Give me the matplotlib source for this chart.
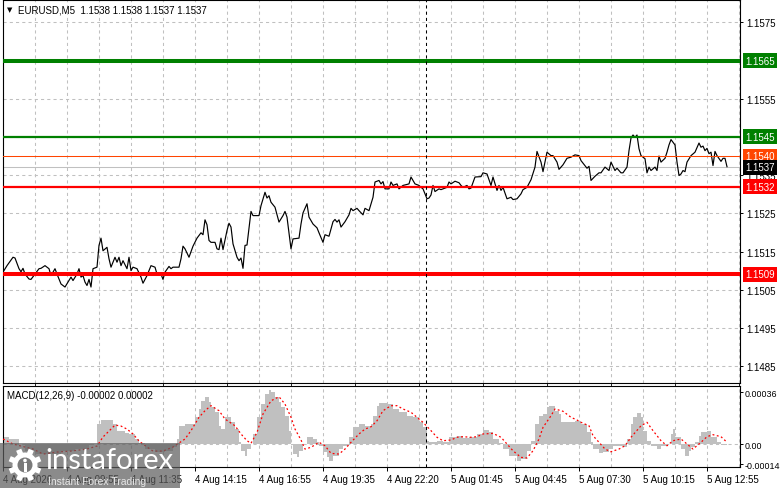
import matplotlib
matplotlib.use("Agg")
import matplotlib.pyplot as plt
import matplotlib.transforms as mtransforms
from matplotlib.patches import Rectangle, Circle
from matplotlib.lines import Line2D
from matplotlib.ticker import MultipleLocator
import numpy as np

plt.rcParams['font.family'] = ['Liberation Sans', 'DejaVu Sans']
plt.rcParams['font.size'] = 7

# ---- price (M5 close), bar index -> price ----
price_bars = [0, 2, 5, 6, 8, 9, 10, 11, 13, 14,
              16, 18, 19, 21, 23, 24, 26, 27, 29, 31,
              33, 34, 35, 37, 38, 39, 40, 41, 42, 43,
              44, 45, 47, 48, 49, 50, 52, 53, 54, 56,
              57, 58, 59, 60, 62, 63, 64, 65, 67, 69,
              70, 72, 74, 76, 77, 79, 80, 81, 83, 84,
              85, 88, 89, 90, 91, 93,
              95, 97, 99, 100, 101, 102, 103, 104, 106, 107,
              108, 109, 110, 112, 113, 114, 115, 117, 118, 119,
              120, 121, 122, 124, 125, 128, 129, 131, 132, 133,
              134, 136, 138, 140, 141, 142, 144, 145, 148, 149,
              150, 152, 153, 155, 157, 158, 160, 161, 163, 165,
              166, 167, 168, 169, 171, 173, 174, 175, 177, 178,
              180, 181, 183,
              185, 186, 188, 189, 190, 191, 193, 194, 195, 197,
              198, 200, 203, 204, 206, 208, 209, 210, 212, 213,
              214, 215, 216, 218, 219, 222, 223, 224, 226, 228,
              229, 230, 232, 233, 234, 236, 239, 240, 242, 244,
              245, 247, 248, 249, 250, 252, 254, 255, 257, 259,
              260, 262, 264, 266, 267, 269, 270, 271, 272, 274,
              275, 277, 278,
              280, 282, 284, 286, 288, 289, 292, 293, 294, 296,
              298, 299, 301, 303, 304, 306, 307, 309, 310, 312,
              313, 314, 315, 316, 317, 318, 319, 321, 322, 323,
              324, 326, 327, 328, 329, 331, 332, 333, 334, 336,
              337, 338, 339, 340, 341, 342, 344, 346, 348, 349,
              350, 351, 352, 353, 354, 355, 356, 357, 359, 360,
              361, 362]
price_close = [1.15096, 1.15113, 1.15135, 1.15133, 1.15105, 1.15097, 1.15106, 1.15091, 1.15078, 1.15077,
               1.15091, 1.15105, 1.15106, 1.15113, 1.15105, 1.15087, 1.15105, 1.15091, 1.15065, 1.15057,
               1.15074, 1.15083, 1.15074, 1.15091, 1.15105, 1.15083, 1.15087, 1.15070, 1.15061, 1.15077,
               1.15057, 1.15105, 1.15109, 1.15166, 1.15185, 1.15152, 1.15161, 1.15131, 1.15109, 1.15135,
               1.15122, 1.15135, 1.15113, 1.15126, 1.15105, 1.15135, 1.15100, 1.15109, 1.15105, 1.15083,
               1.15067, 1.15087, 1.15113, 1.15109, 1.15091, 1.15091, 1.15077, 1.15096, 1.15111, 1.15105,
               1.15109, 1.15109, 1.15131, 1.15164, 1.15157, 1.15135,
               1.15164, 1.15185, 1.15199, 1.15194, 1.15233, 1.15220, 1.15179, 1.15174, 1.15174, 1.15157,
               1.15155, 1.15185, 1.15155, 1.15205, 1.15224, 1.15214, 1.15170, 1.15135, 1.15126, 1.15133,
               1.15106, 1.15166, 1.15167, 1.15255, 1.15244, 1.15244, 1.15270, 1.15305, 1.15290, 1.15296,
               1.15279, 1.15266, 1.15227, 1.15244, 1.15255, 1.15240, 1.15157, 1.15183, 1.15185, 1.15222,
               1.15251, 1.15275, 1.15240, 1.15222, 1.15212, 1.15199, 1.15174, 1.15194, 1.15190, 1.15228,
               1.15234, 1.15227, 1.15233, 1.15214, 1.15228, 1.15246, 1.15263, 1.15257, 1.15263, 1.15257,
               1.15246, 1.15263, 1.15257,
               1.15292, 1.15332, 1.15336, 1.15327, 1.15333, 1.15314, 1.15314, 1.15332, 1.15323, 1.15327,
               1.15314, 1.15323, 1.15327, 1.15345, 1.15327, 1.15323, 1.15318, 1.15314, 1.15288, 1.15290,
               1.15298, 1.15323, 1.15307, 1.15314, 1.15312, 1.15318, 1.15332, 1.15327, 1.15334, 1.15330,
               1.15323, 1.15318, 1.15323, 1.15314, 1.15316, 1.15345, 1.15346, 1.15356, 1.15353, 1.15323,
               1.15345, 1.15310, 1.15323, 1.15310, 1.15318, 1.15288, 1.15292, 1.15286, 1.15288, 1.15301,
               1.15312, 1.15318, 1.15338, 1.15371, 1.15412, 1.15384, 1.15359, 1.15384, 1.15410, 1.15401,
               1.15401, 1.15384, 1.15365,
               1.15377, 1.15394, 1.15397, 1.15403, 1.15401, 1.15388, 1.15368, 1.15373, 1.15336, 1.15347,
               1.15356, 1.15356, 1.15371, 1.15362, 1.15384, 1.15362, 1.15368, 1.15356, 1.15356, 1.15371,
               1.15414, 1.15447, 1.15455, 1.15449, 1.15455, 1.15419, 1.15401, 1.15393, 1.15356, 1.15371,
               1.15362, 1.15371, 1.15362, 1.15400, 1.15384, 1.15394, 1.15410, 1.15429, 1.15443, 1.15429,
               1.15384, 1.15349, 1.15353, 1.15362, 1.15359, 1.15384, 1.15401, 1.15410, 1.15434, 1.15423,
               1.15426, 1.15414, 1.15420, 1.15406, 1.15410, 1.15375, 1.15412, 1.15401, 1.15386, 1.15394,
               1.15394, 1.15372]

# ---- MACD(12,26,9) ----
hist_bars = [0, 3, 6, 8, 11, 16, 21, 29, 36, 43, 45, 47, 49, 52, 55, 57, 61, 63, 66, 68, 71, 76, 81, 85, 87, 88,
             91, 94, 96, 98, 99, 101, 103, 104, 106, 108, 109, 111, 113, 114, 116, 118, 119, 121, 122, 124,
             125, 127, 129, 131, 133, 134, 136, 138, 139, 141, 143, 144, 145, 147, 148, 150, 152, 153, 155,
             157, 158, 160, 162, 163, 165, 168, 170, 173, 175, 178, 181, 184,
             185, 187, 188, 192, 195, 198, 202, 205, 208, 210, 212, 213, 217, 220, 223, 227, 230, 233, 237,
             240, 243, 245, 248, 250, 253, 257, 259, 262, 264, 266, 268, 270, 272, 273, 276,
             278, 279, 283, 286, 289, 292, 294, 295, 298, 300, 303, 305, 308, 310, 312, 314, 315, 317, 319,
             320, 322, 324, 327, 329, 332, 334, 335, 336, 339, 341, 343, 344, 346, 348, 349, 352, 354, 357,
             359, 362]
hist_vals = [0.00005, 0.000035, 0.000035, 0.0, -0.00005, -0.00007, -0.00007, -0.00005, -0.000035, -0.00001,
             0.0, 0.00014, 0.000167, 0.000167, 0.00014, 0.00009, 0.000077, 0.00007, 0.000035, 0.000007,
             -0.000035, -0.000056, -0.00005, -0.00002, 0.000035, 0.000125,
             0.000139, 0.000139, 0.000186, 0.000244, 0.000302, 0.000329, 0.00029, 0.000255, 0.00022, 0.000128,
             0.000104, 0.000186, 0.000186, 0.000151, 0.000104, 0.000012, -0.000046, -0.000081, -0.000035, 0.0,
             0.00007, 0.000186, 0.000278, 0.000348, 0.000376, 0.00036, 0.000325, 0.00029, 0.000255, 0.000197,
             0.000093, 0.0, -0.00007, -0.000093, -0.000046, 0.0, 0.000051, 0.000046, 0.000035, 0.000012,
             -0.000012, -0.000058, -0.000093, -0.000116, -0.000081, -0.000035, -0.000012, 0.000046, 0.000116,
             0.000139, 0.000128, 0.000139,
             0.000197, 0.000267, 0.000283, 0.000278, 0.000244, 0.00022, 0.000197, 0.000186, 0.000151, 0.000116,
             0.000023, 0.000012, 0.000023, 0.000012, 0.000046, 0.000058, 0.000042, 0.000046, 0.00007, 0.000097,
             0.000081, 0.000035, 0.000005, -0.000035, -0.000081, -0.000116, -0.000104, -0.000046, 0.000023,
             0.000139, 0.000197, 0.000209, 0.000255, 0.000267, 0.00023,
             0.000209, 0.000151, 0.000151, 0.000158, 0.000139, 0.000081, 0.000012, -0.000035, -0.000065,
             -0.000058, -0.000035, -0.000012, -0.000012, -0.000023, 0.000035, 0.000139, 0.000186, 0.000213,
             0.000186, 0.000093, 0.000023, -0.000012, -0.000035, -0.000012, 0.0, 0.00007, 0.000104, 0.000046,
             -0.000035, -0.000081, -0.000046, -0.000023, 0.000012, 0.000058, 0.000081, 0.000088, 0.000046,
             0.000012, -0.000007, -0.000023]
sig_bars = [0, 5, 15, 20, 27, 34, 42, 47, 50, 54, 56, 59, 62, 65, 68, 72, 75, 80, 85, 88,
            91, 94, 98, 101, 104, 108, 111, 116, 119, 122, 124, 127, 130, 134, 138, 141, 144, 146, 149, 151,
            154, 158, 161, 164, 168, 171, 174, 178, 181, 184,
            187, 190, 194, 197, 200, 204, 207, 210, 214, 217, 220, 224, 227, 230, 234, 237, 240, 245, 249,
            252, 255, 259, 262, 265, 268, 270, 274, 276,
            280, 284, 287, 289, 293, 295, 298, 301, 304, 308, 311, 314, 319, 322, 325, 329, 332, 335, 339,
            342, 345, 349, 352, 355, 359, 362]
sig_vals = [0.000035, 0.0, -0.000035, -0.00007, -0.000056, -0.000049, -0.000035, -0.000014, 0.000049, 0.000104,
            0.000132, 0.000125, 0.000104, 0.00007, 0.000021, -0.000021, -0.000049, -0.000049, -0.000021, 0.000007,
            0.000035, 0.000093, 0.000186, 0.000232, 0.000267, 0.000232, 0.000174, 0.000127, 0.00007, 0.000023,
            0.000005, 0.000081, 0.000209, 0.000301, 0.000329, 0.000278, 0.000186, 0.000104, 0.000028, -0.000035,
            -0.000023, 0.000012, -0.000012, -0.000065, -0.00007, -0.000035, 0.000012, 0.00007, 0.000104, 0.00012,
            0.000162, 0.000232, 0.000267, 0.000267, 0.000244, 0.000221, 0.000186, 0.000151, 0.000093, 0.000047,
            0.000023, 0.000028, 0.000047, 0.000051, 0.000047, 0.000051, 0.00007, 0.000074, 0.000047, 0.0,
            -0.000047, -0.000093, -0.000097, -0.000047, 0.000035, 0.000116, 0.000197, 0.000244,
            0.000228, 0.000186, 0.000167, 0.000151, 0.000127, 0.000058, 0.000012, -0.000035, -0.000054, -0.000035,
            -0.000012, 0.000047, 0.000127, 0.000151, 0.000093, 0.000023, -0.000012, 0.000023, 0.000035, 0.0,
            -0.000035, 0.000012, 0.000051, 0.000065, 0.000051, 0.000012]

# ---- levels / labels ----
level_prices = [1.1565, 1.1545, 1.1540, 1.1532, 1.1509]
level_colors = ['#008000', '#008000', '#ff4500', '#ff0000', '#ff0000']
level_widths = [2.9, 1.6, 0.75, 1.6, 2.9]
last_price = 1.1537
price_ticks = [1.1485, 1.1495, 1.1505, 1.1515, 1.1525, 1.1535, 1.1555, 1.1575]
macd_ticks = [-0.00014, 0.0, 0.00036]
macd_tick_labels = ['-0.00014', '0.00', '0.00036']
time_bars = [0, 32, 64, 96, 128, 160, 192, 224, 256, 288, 320, 352]
time_labels = ['4 Aug 2026', '4 Aug 09:55', '4 Aug 11:35', '4 Aug 14:15', '4 Aug 16:55',
               '4 Aug 19:35', '4 Aug 22:20', '5 Aug 01:45', '5 Aug 04:45', '5 Aug 07:30',
               '5 Aug 10:15', '5 Aug 12:55']
cursor_bar = 211.5

W, H = 781, 489
fig = plt.figure(figsize=(W / 100, H / 100), dpi=100)
fig.patch.set_facecolor('white')
ax = fig.add_axes([3 / W, 1 - 384 / H, 737 / W, 383 / H])
am = fig.add_axes([3 / W, 1 - 468 / H, 737 / W, 81 / H], sharex=ax)

grid_kw = dict(color='#c0c0c0', lw=0.75, ls=(0, (3, 3)))

# main panel
ax.set_xlim(0, 368.5)
ax.set_ylim(1.148058, 1.158084)
ax.plot(price_bars, price_close, color='black', lw=0.85, zorder=3)
ax.axhline(last_price, color='#c0c0c0', lw=0.75, zorder=2)
for p, c, w in zip(level_prices, level_colors, level_widths):
    ax.axhline(p, color=c, lw=w, zorder=4)
ax.axvline(cursor_bar, color='black', lw=0.75, ls=(0, (3, 3)), zorder=5)

ax.yaxis.tick_right()
ax.set_yticks(price_ticks)
ax.set_yticklabels(['%.4f' % t for t in price_ticks])
ax.tick_params(axis='y', length=2.5, pad=1.8, labelsize=7, width=0.7)
ax.tick_params(axis='x', length=0, labelbottom=False)
ax.xaxis.set_minor_locator(MultipleLocator(16))
ax.grid(axis='x', which='both', **grid_kw)
for t in [1.1485 + 0.001 * i for i in range(10)]:
    ax.axhline(t, zorder=0.5, **grid_kw)
for s in ax.spines.values():
    s.set_linewidth(0.8)

trans = mtransforms.blended_transform_factory(ax.transAxes, ax.transData)
for p, c in zip(level_prices + [last_price], level_colors + ['black']):
    ax.text(1 + 5 / 737, p, '%.4f' % p, transform=trans, ha='left', va='center',
            color='white', fontsize=7, clip_on=False, zorder=6,
            bbox=dict(boxstyle='square,pad=0.25', fc=c, ec='none'))

# MACD panel
am.set_ylim(-0.00016, 0.000404)
am.axhline(0, color='#c0c0c0', lw=0.75, ls=(0, (3, 3)), zorder=0.5)
am.fill_between(hist_bars, 0, hist_vals, step='post', color='#c0c0c0', lw=0, zorder=2)
am.plot(sig_bars, sig_vals, color='red', lw=0.9, ls=(0, (1.5, 2)), zorder=3)
am.axvline(cursor_bar, color='black', lw=0.75, ls=(0, (3, 3)), zorder=5)
am.yaxis.tick_right()
am.set_yticks(macd_ticks)
am.set_yticklabels(macd_tick_labels)
am.tick_params(axis='y', length=2, pad=1, labelsize=6.4, width=0.7)
am.set_xticks(time_bars)
am.set_xticklabels(time_labels)
plt.setp(am.get_xticklabels(), ha='left')
am.tick_params(axis='x', length=3, pad=2, labelsize=7, width=0.7)
am.tick_params(axis='x', which='minor', length=0)
am.grid(axis='x', which='both', **grid_kw)
for s in am.spines.values():
    s.set_linewidth(0.8)

# header texts
fig.text(7 / W, 1 - 10.5 / H, '\u25bc', fontsize=5, va='center', ha='left', family=['DejaVu Sans'])
fig.text(18 / W, 1 - 10.5 / H, 'EURUSD,M5  1.1538 1.1538 1.1537 1.1537', fontsize=7, va='center', ha='left')
fig.text(7 / W, 1 - 396 / H, 'MACD(12,26,9) -0.00002 0.00002', fontsize=7, va='center', ha='left')

# watermark
inch = fig.dpi_scale_trans
fig.add_artist(Rectangle((0, 0), 1.80, 0.45, transform=inch, fc='#5e5e5e', alpha=0.72, ec='none', zorder=10))
cx, cy = 0.25, 0.23
for k in range(8):
    th = np.pi / 8 + k * np.pi / 4
    fig.add_artist(Line2D([cx + 0.10 * np.cos(th), cx + 0.165 * np.cos(th)],
                          [cy + 0.10 * np.sin(th), cy + 0.165 * np.sin(th)],
                          transform=inch, color='white', lw=4, solid_capstyle='butt', zorder=11))
fig.add_artist(Circle((cx, cy), 0.125, transform=inch, fc='white', ec='none', zorder=11))
fig.add_artist(Circle((cx, cy), 0.075, transform=inch, fc='#7a7a7a', ec='none', zorder=12))
fig.add_artist(Circle((cx, cy + 0.045), 0.018, transform=inch, fc='white', ec='none', zorder=13))
fig.add_artist(Rectangle((cx - 0.015, cy - 0.07), 0.03, 0.09, transform=inch, fc='white', ec='none', zorder=13))
fig.text(45 / W, 1 - 461 / H, 'instaforex', fontsize=21, color='white', va='center', ha='left',
         family=['Lato', 'DejaVu Sans'], zorder=14)
fig.text(48 / W, 1 - 482 / H, 'Instant Forex Trading', fontsize=7.5, color='#e6e6e6', va='center', ha='left',
         zorder=14)

fig.savefig('out.png', dpi=100)
